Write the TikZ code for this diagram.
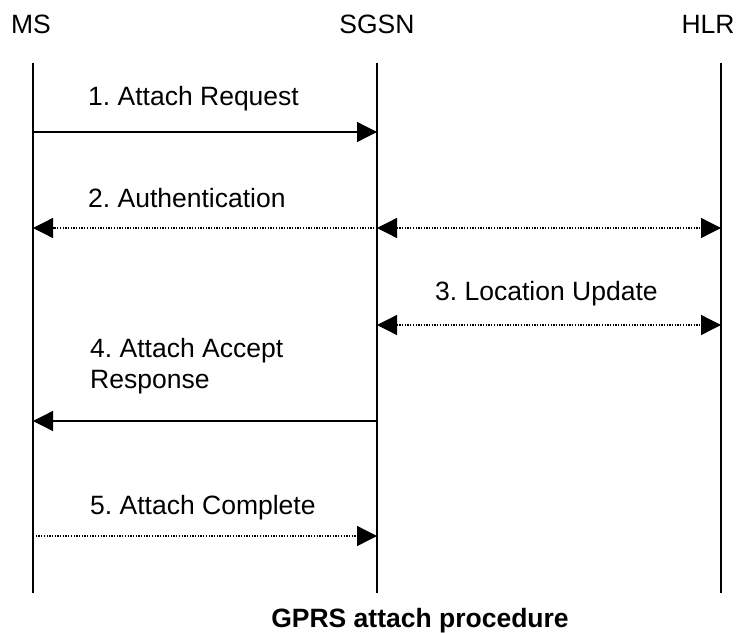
\documentclass[tikz,border=0pt]{standalone}
\usepackage{fontspec}
\setmainfont{Liberation Sans}
\usetikzlibrary{arrows.meta}
\frenchspacing
\begin{document}
\begin{tikzpicture}[x=1pt,y=-1pt,
  life/.style={line width=1.4pt},
  solidmsg/.style={line width=1.3pt},
  dotmsg/.style={line width=1.3pt, dash pattern=on 1.3pt off 1.4pt},
  head/.style={-{Triangle[length=20pt,width=20pt]}},
  heads/.style={{Triangle[length=20pt,width=20pt]}-{Triangle[length=20pt,width=20pt]}},
  lbl/.style={font=\fontsize{26.5}{31}\selectfont, anchor=west, inner sep=0pt, align=left},
  hdr/.style={font=\fontsize{26.5}{31}\selectfont, inner sep=0pt},
  ttl/.style={font=\fontsize{26.5}{31}\selectfont\bfseries, inner sep=0pt}
]
\useasboundingbox (0,0) rectangle (736,632);
\fill[white] (0,0) rectangle (736,632);

% headers
\node[hdr] (msh) at (31,24) {MS};
\node[hdr] (sgsnh) at (377,24) {SGSN};
\node[hdr] (hlrh) at (708,24) {HLR};

% lifelines
\coordinate (mstop) at (33,63);
\coordinate (msbot) at (33,593);
\coordinate (sgtop) at (377,63);
\coordinate (sgbot) at (377,593);
\coordinate (hltop) at (721,63);
\coordinate (hlbot) at (721,593);
\draw[life] (mstop) -- (msbot);
\draw[life] (sgtop) -- (sgbot);
\draw[life] (hltop) -- (hlbot);

% message end points
\coordinate (ms1) at (33,132);   \coordinate (sg1) at (377,132);
\coordinate (ms2) at (33,228);   \coordinate (sg2) at (377,228); \coordinate (hl2) at (721,228);
\coordinate (sg3) at (377,325);  \coordinate (hl3) at (721,325);
\coordinate (ms4) at (33,421);   \coordinate (sg4) at (377,421);
\coordinate (ms5) at (33,536);   \coordinate (sg5) at (377,536);

% 1
\node[lbl] (l1) at (88,99) {1. Attach Request};
\draw[solidmsg,head] (ms1) -- (sg1);
% 2
\node[lbl] (l2) at (88,198) {2. Authentication};
\draw[dotmsg,head] (sg2) -- (ms2);
\draw[dotmsg,heads] (sg2) -- (hl2);
% 3
\node[lbl] (l3) at (435,294) {3. Location Update};
\draw[dotmsg,heads] (sg3) -- (hl3);
% 4
\node[lbl] (l4) at (90,366) {4. Attach Accept\\Response};
\draw[solidmsg,head] (sg4) -- (ms4);
\coordinate (t4a) at (53,421); \coordinate (t4b) at (70,421);
\coordinate (t4c) at (340,421);
\draw[line width=1.8pt] (t4a) -- (t4b);
\draw[line width=1.8pt] (t4c) -- (sg4);
% 5
\node[lbl] (l5) at (90,508) {5. Attach Complete};
\draw[dotmsg,head] (ms5) -- (sg5);

% title
\node[ttl] (title) at (420,621) {GPRS attach procedure};
\end{tikzpicture}
\end{document}
